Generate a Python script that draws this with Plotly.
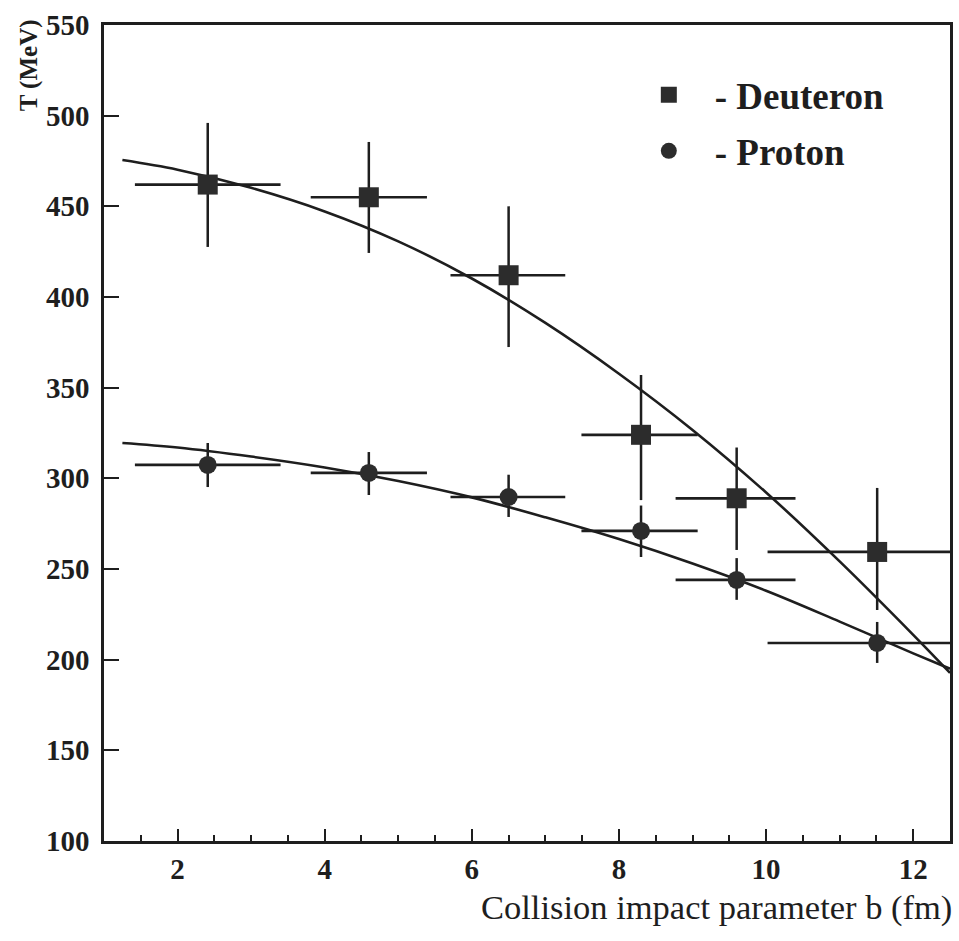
import plotly.graph_objects as go

# ---- data ----
b_center = [2.41, 4.60, 6.50, 8.30, 9.60, 11.51]
b_low = [1.42, 3.81, 5.71, 7.49, 8.77, 10.02]
b_high = [3.40, 5.39, 7.27, 9.07, 10.40, 12.5]

deut_T = [462.0, 455.0, 412.0, 324.0, 289.0, 259.4]
deut_T_low = [427.6, 424.3, 372.4, 288.0, 260.5, 227.4]
deut_T_high = [496.0, 485.5, 450.0, 357.0, 317.0, 294.7]

prot_T = [307.4, 303.0, 289.7, 271.0, 244.0, 209.2]
prot_T_low = [295.2, 290.8, 278.7, 256.6, 233.0, 198.2]
prot_T_high = [319.5, 314.5, 302.0, 285.0, 256.0, 220.8]

fit_b = [1.25, 2, 3, 4, 5, 6, 7, 8, 9, 10, 11, 12, 12.5]
deut_fit_T = [475.5, 470.2, 460.2, 447.2, 430.7, 410.2, 385.7, 357.7, 326.7, 292.2, 254.2, 213.7, 192.7]
prot_fit_T = [319.5, 317.0, 312.0, 306.0, 298.5, 289.5, 278.5, 266.5, 253.0, 238.0, 221.0, 203.5, 195.0]

x_ticks = [2, 4, 6, 8, 10, 12]
y_ticks = [100, 150, 200, 250, 300, 350, 400, 450, 500, 550]

INK = "#1e1e1e"
MARK = "#2c2c2c"
SERIF = "Liberation Serif, Times New Roman, serif"

xm = [c - l for c, l in zip(b_center, b_low)]
xp = [h - c for c, h in zip(b_center, b_high)]

fig = go.Figure()

for fit_T in (deut_fit_T, prot_fit_T):
    fig.add_trace(go.Scatter(
        x=fit_b, y=fit_T, mode="lines",
        line=dict(color=INK, width=2.6, shape="spline", smoothing=1.0),
        showlegend=False, hoverinfo="skip"))

fig.add_trace(go.Scatter(
    x=b_center, y=deut_T, mode="markers", name="\u00a0\u00a0\u2009- Deuteron", legendgroup="d",
    marker=dict(symbol="square", size=20, color=MARK),
    error_x=dict(type="data", symmetric=False, array=xp, arrayminus=xm, color=INK, thickness=2.7, width=0),
    error_y=dict(type="data", symmetric=False,
                 array=[h - v for v, h in zip(deut_T, deut_T_high)],
                 arrayminus=[v - l for v, l in zip(deut_T, deut_T_low)],
                 color=INK, thickness=2.5, width=0)))

fig.add_trace(go.Scatter(
    x=b_center, y=prot_T, mode="markers", name="\u00a0\u00a0\u2009- Proton", legendgroup="p",
    marker=dict(symbol="circle", size=18, color=MARK),
    error_x=dict(type="data", symmetric=False, array=xp, arrayminus=xm, color=INK, thickness=2.7, width=0),
    error_y=dict(type="data", symmetric=False,
                 array=[h - v for v, h in zip(prot_T, prot_T_high)],
                 arrayminus=[v - l for v, l in zip(prot_T, prot_T_low)],
                 color=INK, thickness=2.5, width=0)))

fig.update_layout(
    width=959, height=941,
    margin=dict(l=104, r=6, t=25, b=100),
    paper_bgcolor="white", plot_bgcolor="white",
    font=dict(family=SERIF, color=INK),
    showlegend=True,
    legend=dict(x=0.644, y=0.952, xanchor="left", yanchor="top",
                bgcolor="rgba(0,0,0,0)", traceorder="grouped", tracegroupgap=5,
                font=dict(family=SERIF, size=37, color=INK, weight="bold")),
    xaxis=dict(range=[1, 12.5], tickvals=x_ticks, ticktext=[str(v) for v in x_ticks],
               ticks="inside", ticklen=12, tickwidth=2, tickcolor=INK,
               minor=dict(dtick=0.5, tick0=0, ticks="inside", ticklen=6, tickwidth=1.6, tickcolor=INK),
               showline=True, mirror=True, linewidth=2.6, linecolor=INK,
               showgrid=False, zeroline=False,
               tickfont=dict(family=SERIF, size=29, color=INK, weight="bold")),
    yaxis=dict(range=[100, 550], tickvals=y_ticks, ticktext=[str(v) for v in y_ticks],
               ticks="inside", ticklen=15, tickwidth=2.4, tickcolor=INK,
               showline=True, mirror=True, linewidth=2.6, linecolor=INK,
               showgrid=False, zeroline=False, ticklabelstandoff=6,
               tickfont=dict(family=SERIF, size=29, color=INK, weight="bold")),
    annotations=[
        dict(text="T (MeV)", textangle=-90, xref="paper", yref="paper",
             x=-0.089, y=1.009, xanchor="center", yanchor="top", showarrow=False,
             font=dict(family=SERIF, size=25, color=INK, weight="bold")),
        dict(text="Collision impact parameter b (fm)", xref="paper", yref="paper",
             x=1.005, y=-0.082, xanchor="right", yanchor="middle", showarrow=False,
             font=dict(family=SERIF, size=34.5, color=INK)),
    ],
)

fig.write_html("out.html")
